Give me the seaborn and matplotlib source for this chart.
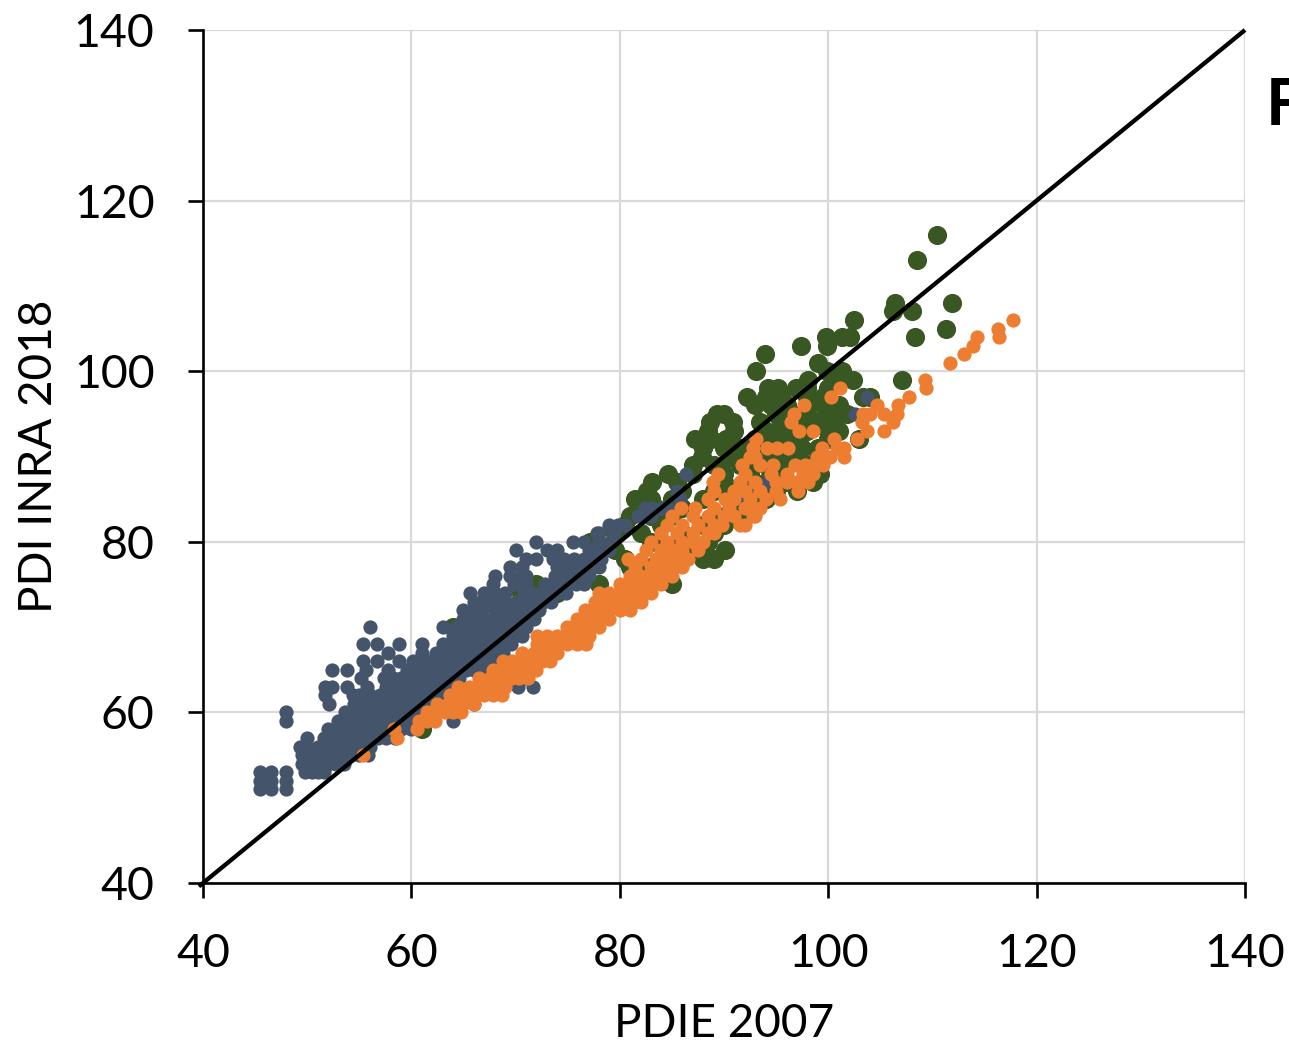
import matplotlib
matplotlib.use("Agg")
import matplotlib.pyplot as plt
import seaborn as sns
import pandas as pd

# values, one list of PDIE values per PDI level
blue_levels = [51, 52, 53, 54, 55, 56, 57, 58, 59, 60, 61, 62, 63, 64, 65, 66, 67, 68, 69, 70,
               71, 72, 73, 74, 75, 76, 77, 78, 79, 80, 81, 82, 83, 84, 85, 86, 87, 88, 95, 97]
blue_values = [
    [45.5, 46.5, 48],
    [45.5, 46.5, 48],
    [45.5, 46.5, 48, 49.8, 50.5, 51, 51.6],
    [49.5, 50, 50.7, 51.2, 52, 52.8, 53.5],
    [49.5, 50.5, 51, 51.6, 52.2, 53, 53.6, 54.2, 55, 55.8],
    [49.3, 50, 51, 51.7, 52.4, 53, 53.7, 54.4, 55.2, 56],
    [50, 51.6, 52.2, 53, 53.7, 54.4, 55.2, 56, 56.8, 57.6, 58.4],
    [52, 53, 53.6, 54.4, 55, 55.8, 56.5, 57.3, 58, 59, 60],
    [48, 53, 53.6, 54.6, 55.4, 56.2, 57, 57.8, 58.6, 59.4, 60.2, 64],
    [48, 53.6, 54.6, 55.4, 56, 56.8, 57.6, 58.4, 59.2, 60, 61],
    [52.1, 54.5, 55.2, 56, 57.2, 58, 58.8, 59.6, 60.4, 61.2, 62, 66],
    [51.7, 54.4, 55, 56, 57, 58, 58.8, 59.6, 60.4, 61.2, 62, 63],
    [51.7, 52.4, 53.8, 55.7, 57.6, 58.4, 59.2, 60, 60.8, 61.6, 62.4, 63.2, 64, 70.2, 71.7],
    [55.2, 57.4, 58.2, 59, 59.8, 60.6, 61.4, 62.2, 63, 63.8, 64.6, 69.7, 71],
    [52.4, 53.8, 55.6, 57.8, 59.6, 60.4, 61.2, 62, 62.8, 63.6, 64.4, 65.2, 66, 67],
    [55.4, 56.7, 58.8, 60.2, 61, 62, 62.8, 63.6, 64.4, 65.2, 66, 66.8, 67.6],
    [57.8, 61, 62.4, 63.2, 64, 64.8, 65.6, 66.4, 67.2, 68, 68.8],
    [55.4, 56.7, 58.8, 61, 63, 64, 64.8, 65.6, 66.4, 67.2, 68, 68.8, 69.6],
    [64, 65, 65.8, 66.6, 67.4, 68.2, 69, 69.8, 70.6],
    [56, 63, 64.3, 65.4, 66.2, 67, 67.8, 68.6, 69.4, 70.2, 71],
    [65, 66, 67, 67.8, 68.6, 69.4, 70.2, 71, 71.8],
    [65, 66, 66.8, 68, 69, 69.8, 70.6, 71.4, 72.2],
    [66, 67, 67.8, 69, 70, 71, 71.8, 72.6, 73.4],
    [65.6, 67, 68, 69, 70.8, 71.6, 72.4, 73.2, 74, 74.8],
    [67.8, 69.8, 71, 72.8, 73.8, 74.4, 75, 75.8, 76.6],
    [68, 69.5, 70.5, 71, 73.8, 74.6, 75.4, 76.2, 77],
    [69.5, 70.6, 74, 75, 75.8, 76.6, 77.4, 78],
    [71, 72, 73.6, 74.6, 75.6, 76.6, 77.4, 78.2],
    [70, 73, 74, 77, 78, 79],
    [72, 75.5, 76.6, 78, 79.1],
    [77.8, 78, 79.4],
    [79, 79.8, 80.5],
    [81.7, 82.6, 83],
    [82.4, 83, 84, 84.6],
    [85.8, 91.5],
    [85.5, 92.3],
    [94.2],
    [86.4],
    [102.6],
    [103.7],
]

green_levels = [58, 70, 73, 74, 75, 77, 78, 79, 80, 81, 82, 83, 84, 85, 86, 87, 88, 89, 90, 91, 92,
                93, 94, 95, 96, 97, 98, 99, 100, 101, 102, 103, 104, 105, 106, 107, 108, 113, 116]
green_values = [
    [61],
    [64, 76],
    [68.5, 71],
    [70.5, 74],
    [72, 78, 85],
    [76, 81, 83],
    [80.5, 84, 88, 89],
    [79.5, 85, 87, 90.1],
    [77.1, 83, 86, 88.5],
    [79.5, 82, 86, 89],
    [80.5, 84, 88, 90],
    [81, 83, 85, 90, 92],
    [82, 83.5, 86, 91, 93],
    [81.5, 83, 85, 88, 90.5, 94],
    [82.6, 86, 89, 92, 95, 97],
    [83.1, 85.5, 90, 94, 96, 98.5],
    [84.6, 87, 90, 92.5, 95, 99.2, 98],
    [87, 89, 91.5, 94, 96, 98],
    [87.9, 90.5, 93, 95, 97, 99, 96],
    [88, 90, 91.5, 94, 96, 97.5, 99],
    [87.2, 88.8, 90.2, 93, 95, 97, 100, 103],
    [88.5, 91, 94, 96, 98, 100, 101],
    [88.7, 90.9, 93.5, 95.5, 97, 99, 100.5],
    [89.3, 90, 95, 96.5, 98, 100, 101.8],
    [93, 94.5, 96, 98, 99.5, 100.5, 101],
    [92.2, 94, 95.5, 98, 99.5, 103.3, 104],
    [94.2, 95.2, 96.9, 98, 100],
    [98.1, 102.4, 101, 107.1],
    [93.1, 99.9, 101.3],
    [99],
    [93.9],
    [97.4, 99.9],
    [99.8, 101.3, 102.1, 108.3],
    [111.3],
    [102.5],
    [106.2, 108],
    [106.4, 111.9],
    [108.5],
    [110.4],
]

orange_levels = [55, 57, 58, 59, 60, 61, 62, 63, 64, 65, 66, 67, 68, 69, 70, 71, 72, 73, 74, 75, 76,
                 77, 78, 79, 80, 81, 82, 83, 84, 85, 86, 87, 88, 89, 90, 91, 92, 93, 94, 95, 96, 97,
                 98, 99, 101, 102, 103, 104, 105, 106]
orange_values = [
    [55.4],
    [58.6],
    [58.3, 60.5],
    [60.7, 61.5, 62.3],
    [61.5, 62.5, 63.2, 64, 64.8],
    [62.5, 63.5, 64.5, 65, 66],
    [63.7, 64.7, 65.3, 66.2, 67, 67.8, 68.7],
    [64.5, 65.5, 66, 67, 68, 69],
    [66.5, 67.5, 68.5, 69.7, 70.3, 71.2],
    [67.8, 69, 70, 71, 72],
    [68.8, 69.7, 70.5, 71.5, 72.5, 73.3],
    [70.6, 71.8, 72.5, 73, 74],
    [72.1, 72.5, 73, 73.8, 74.9, 75.9, 76.8],
    [72.1, 73, 74, 75, 76, 76.5, 77],
    [74.9, 75.5, 76, 77, 78],
    [75.9, 76.5, 77.5, 78, 79],
    [76.7, 77.5, 78.5, 79, 80, 81],
    [77.6, 78.3, 79, 79.8, 80.5, 81.5, 82],
    [78, 79, 80, 81, 82, 83],
    [80, 81, 82, 83, 84],
    [81, 82, 83, 84, 85],
    [81.5, 83, 84, 85, 86],
    [80.8, 82, 83.5, 84.7, 85.5, 86.5],
    [82.5, 84, 85, 86, 87.5],
    [83, 84.5, 86, 87, 88],
    [84, 85.5, 87, 88.5, 89],
    [84.5, 86, 87.5, 89, 89.8, 91.5, 92],
    [85, 87, 88.5, 90, 91, 92.8, 93],
    [85.9, 87.2, 89, 90.5, 92, 92.8, 93.5],
    [88.5, 90.1, 91, 92.5, 94, 95.4],
    [89, 91, 92, 93.5, 95, 97.1],
    [88.9, 91.5, 93, 95, 96, 97, 98.1],
    [89.4, 92, 94.5, 96, 97.6, 98.5],
    [91.7, 93.5, 94.7, 96.8, 97.8, 98.5, 99.5],
    [92.5, 93, 98.9, 99.5, 100.2, 101.5],
    [92.8, 94.1, 95.1, 96.1, 99.4, 100.8, 101.5],
    [93.1, 100.6, 102.8],
    [97.2, 98.5, 103.7, 105.4],
    [96.4, 103.2, 106.2],
    [96.7, 103.3, 105.4, 106.6, 104],
    [97.7, 104.7, 106.7],
    [100.3, 107.8],
    [101.1, 109.4],
    [109.3],
    [111.7],
    [113],
    [113.9],
    [114.3, 116.4],
    [116.3],
    [117.7],
]

identity_line = [39.6, 140]
ticks = [40, 60, 80, 100, 120, 140]


def to_frame(levels, values):
    rows = [(x, y) for y, xs in zip(levels, values) for x in xs]
    return pd.DataFrame(rows, columns=["pdie", "pdi"])


sns.set_style("white")
plt.rcParams['font.family'] = ['Lato', 'DejaVu Sans']

fig = plt.figure(figsize=(12.89, 10.45), dpi=100)
ax = fig.add_axes([203 / 1289, 1 - 883 / 1045, 1042 / 1289, 853 / 1045])

# green at the bottom, orange on top of the blue
kws = dict(ax=ax, linewidth=0, legend=False, clip_on=False, zorder=3)
sns.scatterplot(data=to_frame(green_levels, green_values), x="pdie", y="pdi",
                color="#385723", s=190, **kws)
sns.scatterplot(data=to_frame(blue_levels, blue_values), x="pdie", y="pdi",
                color="#44546A", s=105, **kws)
sns.scatterplot(data=to_frame(orange_levels, orange_values), x="pdie", y="pdi",
                color="#ED7D31", s=105, **kws)

sns.lineplot(x=identity_line, y=identity_line, ax=ax, color="black", linewidth=3.1,
             clip_on=False, zorder=4, solid_capstyle="butt")

ax.set_xlim(40, 140)
ax.set_ylim(40, 140)
ax.set_xticks(ticks)
ax.set_yticks(ticks)
ax.grid(True, color="#D9D9D9", linewidth=1.6)
ax.set_axisbelow(True)

for side in ["top", "right"]:
    ax.spines[side].set_visible(False)
for side in ["left", "bottom"]:
    ax.spines[side].set_color("black")
    ax.spines[side].set_linewidth(1.9)

ax.tick_params(axis="both", length=11, width=1.9, color="black", labelsize=33.5,
               left=True, bottom=True, labelcolor="black")
ax.tick_params(axis="x", pad=25)
ax.tick_params(axis="y", pad=24)

ax.set_xlabel("PDIE 2007", fontsize=33, color="black", labelpad=20)
ax.set_ylabel("PDI INRA 2018", fontsize=33, color="black", labelpad=10)

fig.text(1266 / 1289, 1 - 125 / 1045, "F", fontsize=47, fontweight="bold", color="black")

fig.savefig("out.png", dpi=100)
